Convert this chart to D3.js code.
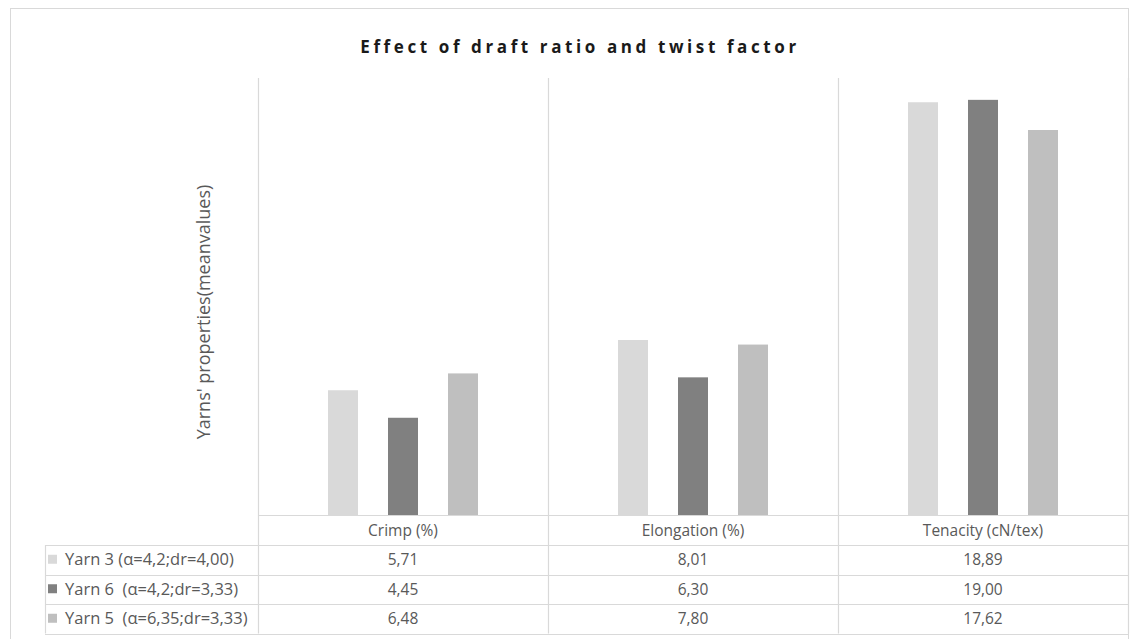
<!DOCTYPE html>
<html>
<head>
<meta charset="utf-8">
<script src="https://cdn.jsdelivr.net/npm/d3@7"></script>
<style>
  html, body { margin: 0; padding: 0; background: #fff; }
  svg { display: block; }
  text { font-family: "Open Sans", "Liberation Sans", sans-serif; }
</style>
</head>
<body>
<svg id="chart" width="1139" height="639"></svg>
<script>
const title = "Effect of draft ratio and twist factor";
const yLabel = "Yarns' properties(meanvalues)";
const categories = ["Crimp (%)", "Elongation (%)", "Tenacity (cN/tex)"];
const seriesNames = ["Yarn 3 (α=4,2;dr=4,00)", "Yarn 6  (α=4,2;dr=3,33)", "Yarn 5  (α=6,35;dr=3,33)"];
const yarn3 = [5.71, 8.01, 18.89];
const yarn6 = [4.45, 6.30, 19.00];
const yarn5 = [6.48, 7.80, 17.62];
const seriesColors = ["#d9d9d9", "#808080", "#bfbfbf"];
const yDomain = [0, 20];

const seriesValues = [yarn3, yarn6, yarn5];
const fmt = v => v.toFixed(2).replace(".", ",");

const svg = d3.select("#chart");
const plot = { left: 258, right: 1128, top: 78, bottom: 515 };
const table = { left: 45, headerBottom: 545, rowH: 29.5 };
const lineColor = "#d9d9d9";
const textColor = "#595959";

// outer border
svg.append("rect").attr("x", 10.5).attr("y", 8.5).attr("width", 1118).attr("height", 640)
  .attr("fill", "none").attr("stroke", "#d9d9d9").attr("stroke-width", 1);

// title
svg.append("text").attr("x", 580).attr("y", 53).attr("text-anchor", "middle")
  .attr("font-size", 17).attr("font-weight", "bold").attr("letter-spacing", "3.6px")
  .attr("fill", "#1a1a1a").text(title);

const x = d3.scaleBand().domain(categories).range([plot.left, plot.right]).padding(0);
const inner = d3.scaleBand().domain(d3.range(seriesNames.length))
  .range([70, 220]).paddingInner(0.5).paddingOuter(0);
const y = d3.scaleLinear().domain(yDomain).range([plot.bottom, plot.top]);

const tableBottom = table.headerBottom + table.rowH * seriesNames.length;

// vertical category separators (plot + table)
const sepXs = categories.map(c => x(c)).concat([plot.right]);
svg.append("g").selectAll("line").data(sepXs).join("line")
  .attr("x1", d => Math.round(d) + 0.5).attr("x2", d => Math.round(d) + 0.5)
  .attr("y1", plot.top).attr("y2", tableBottom)
  .attr("stroke", lineColor).attr("stroke-width", 1.2);

// bars
const barG = svg.append("g");
seriesValues.forEach((vals, si) => {
  barG.append("g").selectAll("rect").data(vals).join("rect")
    .attr("x", (d, i) => x(categories[i]) + inner(si))
    .attr("width", inner.bandwidth())
    .attr("y", d => y(d))
    .attr("height", d => y(0) - y(d))
    .attr("fill", seriesColors[si]);
});

// horizontal table lines
const hLines = [
  { y: plot.bottom, x1: plot.left },
  { y: table.headerBottom, x1: table.left },
  { y: table.headerBottom + table.rowH, x1: table.left },
  { y: table.headerBottom + table.rowH * 2, x1: table.left },
  { y: tableBottom, x1: table.left }
];
svg.append("g").selectAll("line").data(hLines).join("line")
  .attr("x1", d => d.x1).attr("x2", plot.right + 1)
  .attr("y1", d => Math.round(d.y) + 0.5).attr("y2", d => Math.round(d.y) + 0.5)
  .attr("stroke", lineColor).attr("stroke-width", 1.2);
// table left edge
svg.append("line").attr("x1", table.left + 0.5).attr("x2", table.left + 0.5)
  .attr("y1", table.headerBottom).attr("y2", tableBottom)
  .attr("stroke", lineColor).attr("stroke-width", 1.2);

// header labels
svg.append("g").selectAll("text").data(categories).join("text")
  .attr("x", d => x(d) + x.bandwidth() / 2)
  .attr("y", (plot.bottom + table.headerBottom) / 2 + 5.5)
  .attr("text-anchor", "middle").attr("font-size", 15.5).attr("fill", textColor)
  .text(d => d);

// rows
seriesNames.forEach((name, si) => {
  const cy = table.headerBottom + table.rowH * si + table.rowH / 2;
  svg.append("rect").attr("x", 48).attr("y", cy - 5).attr("width", 9).attr("height", 9)
    .attr("fill", seriesColors[si]);
  svg.append("text").attr("x", 65).attr("y", cy + 5.5).attr("font-size", 16.5)
    .attr("fill", textColor).attr("xml:space", "preserve").style("white-space", "pre").text(name);
  svg.append("g").selectAll("text").data(seriesValues[si]).join("text")
    .attr("x", (d, i) => x(categories[i]) + x.bandwidth() / 2)
    .attr("y", cy + 5.5).attr("text-anchor", "middle").attr("font-size", 15.5)
    .attr("fill", textColor).text(d => fmt(d));
});

// y label
svg.append("text").attr("transform", `translate(210, 312) rotate(-90)`)
  .attr("text-anchor", "middle").attr("font-size", 18).attr("fill", textColor)
  .text(yLabel);
</script>
</body>
</html>
